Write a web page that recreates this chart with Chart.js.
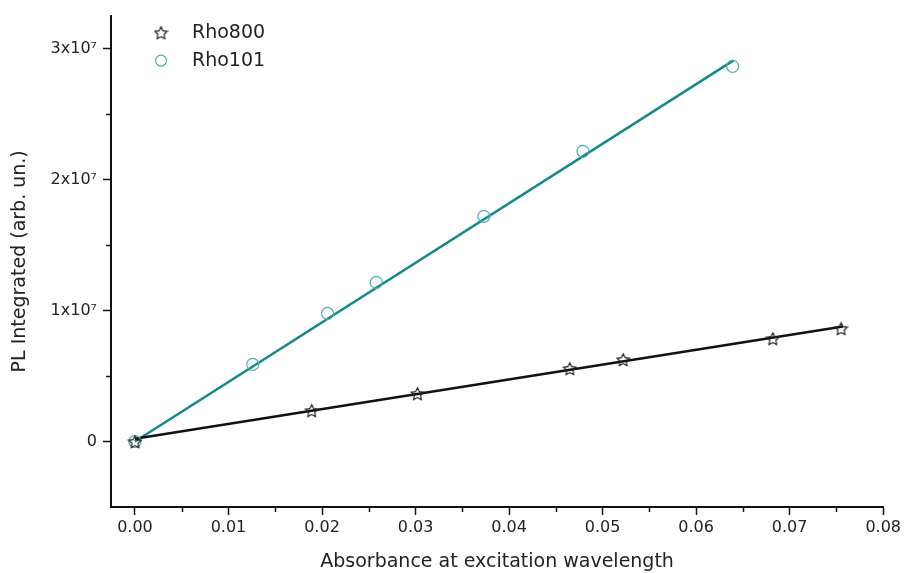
<!DOCTYPE html>
<html>
<head>
<meta charset="utf-8">
<script src="https://cdn.jsdelivr.net/npm/chart.js@4.4.0/dist/chart.umd.min.js"></script>
<style>
  html, body { margin: 0; padding: 0; background: #fff; }
  #wrap { width: 904px; height: 573px; }
</style>
</head>
<body>
<div id="wrap"><canvas id="grafico" width="904" height="573"></canvas></div>
<script>
// ---------------- DATA ----------------
// Rho800 (stars)
const rho800X = [0, 0.0189, 0.0302, 0.0465, 0.0522, 0.0682, 0.0755];
const rho800Y = [0, 0.237e7, 0.366e7, 0.557e7, 0.626e7, 0.786e7, 0.863e7];
// Rho101 (circles)
const rho101X = [0, 0.0126, 0.0206, 0.0258, 0.0373, 0.0479, 0.0639];
const rho101Y = [0, 0.588e7, 0.977e7, 1.214e7, 1.718e7, 2.214e7, 2.863e7];
// linear fits (end points)
const fit800X = [0, 0.0757];
const fit800Y = [0.02e7, 0.878e7];
const fit101X = [0, 0.064];
const fit101Y = [0, 2.908e7];

// ticks
const xTicks = [0, 0.01, 0.02, 0.03, 0.04, 0.05, 0.06, 0.07, 0.08];
const xMinor = [0.005, 0.015, 0.025, 0.035, 0.045, 0.055, 0.065, 0.075];
const yTicks = [0, 1e7, 2e7, 3e7];
const yTickLabels = ['0', '1x10⁷', '2x10⁷', '3x10⁷'];
const yMinor = [0.5e7, 1.5e7, 2.5e7];

const legendLabels = ['Rho800', 'Rho101'];

// ---------------- STYLE ----------------
const corTeal = '#168a88';
const corCirculo = '#4eaeac';
const corPreto = '#111111';
const corTexto = '#222222';
const fonte = 'DejaVu Sans';

const pares = (xs, ys) => xs.map((x, i) => ({ x: x, y: ys[i] }));

// five point outlined star used as marker
function criarEstrela(tamanho, cor) {
  const c = document.createElement('canvas');
  c.width = tamanho;
  c.height = tamanho;
  const g = c.getContext('2d');
  g.strokeStyle = cor;
  g.lineWidth = 1.2;
  g.beginPath();
  for (let i = 0; i < 10; i++) {
    const r = i % 2 === 0 ? tamanho / 2 - 1 : tamanho / 4.6;
    const a = -Math.PI / 2 + i * Math.PI / 5;
    g.lineTo(tamanho / 2 + r * Math.cos(a), tamanho / 2 + 0.8 + r * Math.sin(a));
  }
  g.closePath();
  g.stroke();
  return c;
}
const estrela = criarEstrela(15, '#222222');

// ---------------- PLUGINS ----------------
// minor ticks drawn through the scales
const ticksMenores = {
  id: 'ticksMenores',
  afterDraw(chart) {
    const { ctx, scales: { x, y } } = chart;
    ctx.save();
    ctx.strokeStyle = corPreto;
    ctx.lineWidth = 1.5;
    ctx.beginPath();
    xMinor.forEach(v => {
      const px = Math.round(x.getPixelForValue(v)) + 0.5;
      ctx.moveTo(px, x.top);
      ctx.lineTo(px, x.top + 5);
    });
    yMinor.forEach(v => {
      const py = Math.round(y.getPixelForValue(v)) + 0.5;
      ctx.moveTo(y.right, py);
      ctx.lineTo(y.right - 5, py);
    });
    ctx.stroke();
    ctx.restore();
  }
};

// legend in the top left corner of the plot
const legenda = {
  id: 'legenda',
  afterDraw(chart) {
    const { ctx, chartArea } = chart;
    const x0 = chartArea.left + 50;
    const y0 = chartArea.top + 17;
    const passo = 28;
    ctx.save();
    ctx.drawImage(estrela, x0 - 7.5, y0 - 7.5);
    ctx.strokeStyle = corCirculo;
    ctx.lineWidth = 1.2;
    ctx.beginPath();
    ctx.arc(x0, y0 + passo, 5.5, 0, Math.PI * 2);
    ctx.stroke();
    ctx.fillStyle = corTexto;
    ctx.font = '19px "' + fonte + '"';
    ctx.textBaseline = 'middle';
    ctx.fillText(legendLabels[0], x0 + 31, y0);
    ctx.fillText(legendLabels[1], x0 + 31, y0 + passo);
    ctx.restore();
  }
};

// ---------------- CHART ----------------
const ctx = document.getElementById('grafico').getContext('2d');
const grafico = new Chart(ctx, {
  type: 'scatter',
  data: {
    datasets: [
      {
        label: legendLabels[0],
        data: pares(rho800X, rho800Y),
        pointStyle: estrela,
        pointRadius: 7
      },
      {
        label: legendLabels[1],
        data: pares(rho101X, rho101Y),
        pointStyle: 'circle',
        pointRadius: 6,
        borderColor: corCirculo,
        backgroundColor: 'rgba(0,0,0,0)',
        borderWidth: 1.2
      },
      {
        label: 'fit800',
        data: pares(fit800X, fit800Y),
        showLine: true,
        borderColor: corPreto,
        borderWidth: 2.5,
        pointRadius: 0
      },
      {
        label: 'fit101',
        data: pares(fit101X, fit101Y),
        showLine: true,
        borderColor: corTeal,
        borderWidth: 2.5,
        pointRadius: 0
      }
    ]
  },
  options: {
    responsive: false,
    animation: false,
    events: [],
    layout: { padding: { left: 0, top: 15, right: 18, bottom: 0 } },
    plugins: {
      legend: { display: false },
      tooltip: { enabled: false }
    },
    scales: {
      x: {
        type: 'linear',
        min: -0.00256,
        max: 0.08,
        afterBuildTicks: s => { s.ticks = xTicks.map(v => ({ value: v })); },
        afterFit: s => { s.height = 66; },
        ticks: {
          callback: v => v.toFixed(2),
          font: { family: fonte, size: 16 },
          color: corTexto,
          padding: 3,
          maxRotation: 0,
          autoSkip: false
        },
        grid: { drawOnChartArea: false, drawTicks: true, tickLength: 8, tickColor: corPreto, tickWidth: 1.5 },
        border: { display: true, color: corPreto, width: 2 },
        title: {
          display: true,
          text: 'Absorbance at excitation wavelength',
          font: { family: fonte, size: 19 },
          color: corTexto,
          padding: { top: 0, bottom: 0 }
        }
      },
      y: {
        type: 'linear',
        min: -0.5e7,
        max: 3.25e7,
        afterBuildTicks: s => { s.ticks = yTicks.map(v => ({ value: v })); },
        afterFit: s => { s.width = 111; },
        ticks: {
          callback: (v) => yTickLabels[yTicks.indexOf(v)],
          font: { family: fonte, size: 16 },
          color: corTexto,
          padding: 6,
          autoSkip: false
        },
        grid: { drawOnChartArea: false, drawTicks: true, tickLength: 8, tickColor: corPreto, tickWidth: 1.5 },
        border: { display: true, color: corPreto, width: 2 },
        title: {
          display: true,
          text: 'PL Integrated (arb. un.)',
          font: { family: fonte, size: 19 },
          color: corTexto,
          padding: { top: 9, bottom: 0 }
        }
      }
    }
  },
  plugins: [ticksMenores, legenda]
});
</script>
</body>
</html>
